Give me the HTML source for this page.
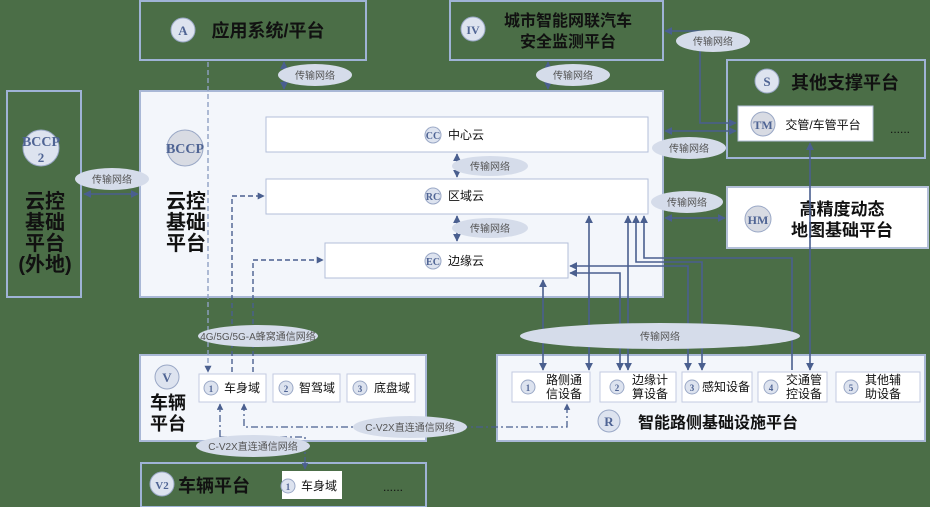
<!DOCTYPE html>
<html><head><meta charset="utf-8"><style>
html,body{margin:0;padding:0;background:#4b6e47;}
svg{display:block;}
text{font-family:"Liberation Sans","Noto Sans CJK SC",sans-serif;}
.c{font-family:"Liberation Serif",serif;fill:#4f6494;font-weight:bold;}
</style></head><body>
<svg width="930" height="507" viewBox="0 0 930 507" xmlns="http://www.w3.org/2000/svg">
<defs>
<marker id="a" viewBox="0 0 10 10" refX="9" refY="5" markerWidth="5" markerHeight="5" orient="auto-start-reverse"><path d="M0 0L10 5L0 10z" fill="#4a5f8f"/></marker>
</defs>
<rect width="930" height="507" fill="#4b6e47"/>
<!-- top boxes -->
<rect x="140" y="1" width="226" height="59" fill="none" stroke="#9fb3d6" stroke-width="2"/>
<circle cx="183" cy="30" r="12" fill="#dde3ef" stroke="#9aa8c6"/><text x="183" y="35" text-anchor="middle" class="c" font-size="13">A</text>
<text x="268" y="37" text-anchor="middle" font-size="18" font-weight="bold" fill="#111">应用系统/平台</text>
<rect x="450" y="1" width="213" height="59" fill="none" stroke="#9fb3d6" stroke-width="2"/>
<circle cx="473" cy="29" r="12" fill="#dde3ef" stroke="#9aa8c6"/><text x="473" y="34" text-anchor="middle" class="c" font-size="12">IV</text>
<text x="568" y="26" text-anchor="middle" font-size="16" font-weight="bold" fill="#111">城市智能网联汽车</text>
<text x="568" y="47" text-anchor="middle" font-size="16" font-weight="bold" fill="#111">安全监测平台</text>
<!-- BCCP2 -->
<rect x="7" y="91" width="74" height="206" fill="none" stroke="#9fb3d6" stroke-width="2"/>
<circle cx="41" cy="148" r="18" fill="#dde3ef" stroke="#9aa8c6"/>
<text x="41" y="146" text-anchor="middle" class="c" font-size="14">BCCP</text><text x="41" y="162" text-anchor="middle" class="c" font-size="13">2</text>
<g font-size="20" font-weight="bold" fill="#111" text-anchor="middle"><text x="45" y="208">云控</text><text x="45" y="229">基础</text><text x="45" y="250">平台</text><text x="45" y="271">(外地)</text></g>
<!-- main BCCP -->
<rect x="140" y="91" width="523" height="206" fill="#f3f6fb" stroke="#a9b8d6" stroke-width="2"/>
<circle cx="185" cy="148" r="18" fill="#d8dbe3" stroke="#9aa8c6"/><text x="185" y="153" text-anchor="middle" class="c" font-size="14">BCCP</text>
<g font-size="20" font-weight="bold" fill="#111" text-anchor="middle"><text x="186" y="208">云控</text><text x="186" y="229">基础</text><text x="186" y="250">平台</text></g>
<rect x="266" y="117" width="382" height="35" fill="#fff" stroke="#b3bfd8"/>
<rect x="266" y="179" width="382" height="35" fill="#fff" stroke="#b3bfd8"/>
<rect x="325" y="243" width="243" height="35" fill="#fff" stroke="#b3bfd8"/>
<g font-size="12" fill="#111">
<circle cx="433" cy="135" r="8" fill="#dde3ef" stroke="#9aa8c6"/><text x="433" y="139" text-anchor="middle" class="c" font-size="10">CC</text><text x="448" y="139">中心云</text>
<circle cx="433" cy="196" r="8" fill="#dde3ef" stroke="#9aa8c6"/><text x="433" y="200" text-anchor="middle" class="c" font-size="10">RC</text><text x="448" y="200">区域云</text>
<circle cx="433" cy="261" r="8" fill="#dde3ef" stroke="#9aa8c6"/><text x="433" y="265" text-anchor="middle" class="c" font-size="10">EC</text><text x="448" y="265">边缘云</text>
</g>
<!-- S box -->
<rect x="727" y="60" width="198" height="98" fill="none" stroke="#9fb3d6" stroke-width="2"/>
<circle cx="767" cy="81" r="12" fill="#dde3ef" stroke="#9aa8c6"/><text x="767" y="86" text-anchor="middle" class="c" font-size="13">S</text>
<text x="845" y="89" text-anchor="middle" font-size="18" font-weight="bold" fill="#111">其他支撑平台</text>
<rect x="738" y="106" width="135" height="35" fill="#fff" stroke="#b3bfd8"/>
<circle cx="763" cy="124" r="12" fill="#d8dbe3" stroke="#9aa8c6"/><text x="763" y="129" text-anchor="middle" class="c" font-size="12">TM</text>
<text x="823" y="129" text-anchor="middle" font-size="12" fill="#111">交管/车管平台</text>
<text x="900" y="133" text-anchor="middle" font-size="12" fill="#111">......</text>
<!-- HM -->
<rect x="727" y="187" width="201" height="61" fill="#fff" stroke="#b3bfd8" stroke-width="2"/>
<circle cx="758" cy="219" r="13" fill="#d8dbe3" stroke="#9aa8c6"/><text x="758" y="224" text-anchor="middle" class="c" font-size="12">HM</text>
<text x="842" y="215" text-anchor="middle" font-size="17" font-weight="bold" fill="#111">高精度动态</text>
<text x="842" y="236" text-anchor="middle" font-size="17" font-weight="bold" fill="#111">地图基础平台</text>
<!-- V -->
<rect x="140" y="355" width="286" height="86" fill="#f3f6fb" stroke="#a9b8d6" stroke-width="2"/>
<circle cx="167" cy="377" r="12" fill="#dde3ef" stroke="#9aa8c6"/><text x="167" y="382" text-anchor="middle" class="c" font-size="13">V</text>
<text x="168" y="409" text-anchor="middle" font-size="18" font-weight="bold" fill="#111">车辆</text>
<text x="168" y="430" text-anchor="middle" font-size="18" font-weight="bold" fill="#111">平台</text>
<g font-size="12" fill="#111">
<rect x="199" y="374" width="67" height="28" fill="#fff" stroke="#c3cbe0"/><circle cx="211" cy="388" r="7" fill="#dde3ef" stroke="#9aa8c6"/><text x="211" y="392" text-anchor="middle" class="c" font-size="9">1</text><text x="224" y="392">车身域</text>
<rect x="273" y="374" width="67" height="28" fill="#fff" stroke="#c3cbe0"/><circle cx="286" cy="388" r="7" fill="#dde3ef" stroke="#9aa8c6"/><text x="286" y="392" text-anchor="middle" class="c" font-size="9">2</text><text x="299" y="392">智驾域</text>
<rect x="347" y="374" width="68" height="28" fill="#fff" stroke="#c3cbe0"/><circle cx="360" cy="388" r="7" fill="#dde3ef" stroke="#9aa8c6"/><text x="360" y="392" text-anchor="middle" class="c" font-size="9">3</text><text x="374" y="392">底盘域</text>
</g>
<!-- V2 -->
<rect x="141" y="463" width="285" height="44" fill="none" stroke="#9fb3d6" stroke-width="2"/>
<circle cx="162" cy="484" r="12" fill="#dde3ef" stroke="#9aa8c6"/><text x="162" y="489" text-anchor="middle" class="c" font-size="11">V2</text>
<text x="214" y="492" text-anchor="middle" font-size="18" font-weight="bold" fill="#111">车辆平台</text>
<rect x="282" y="471" width="60" height="28" fill="#fff"/><circle cx="288" cy="486" r="7" fill="#dde3ef" stroke="#9aa8c6"/><text x="288" y="490" text-anchor="middle" class="c" font-size="9">1</text><text x="301" y="490" font-size="12" fill="#111">车身域</text>
<text x="383" y="491" font-size="12" fill="#111">......</text>
<!-- R -->
<rect x="497" y="355" width="428" height="86" fill="#f3f6fb" stroke="#a9b8d6" stroke-width="2"/>
<g font-size="12" fill="#111">
<rect x="512" y="372" width="78" height="30" fill="#fff" stroke="#c3cbe0"/><circle cx="528" cy="387" r="7" fill="#dde3ef" stroke="#9aa8c6"/><text x="528" y="391" text-anchor="middle" class="c" font-size="9">1</text><text x="546" y="384">路侧通</text><text x="546" y="398">信设备</text>
<rect x="600" y="372" width="76" height="30" fill="#fff" stroke="#c3cbe0"/><circle cx="617" cy="387" r="7" fill="#dde3ef" stroke="#9aa8c6"/><text x="617" y="391" text-anchor="middle" class="c" font-size="9">2</text><text x="632" y="384">边缘计</text><text x="632" y="398">算设备</text>
<rect x="682" y="372" width="70" height="30" fill="#fff" stroke="#c3cbe0"/><circle cx="692" cy="387" r="7" fill="#dde3ef" stroke="#9aa8c6"/><text x="692" y="391" text-anchor="middle" class="c" font-size="9">3</text><text x="702" y="391">感知设备</text>
<rect x="758" y="372" width="69" height="30" fill="#fff" stroke="#c3cbe0"/><circle cx="771" cy="387" r="7" fill="#dde3ef" stroke="#9aa8c6"/><text x="771" y="391" text-anchor="middle" class="c" font-size="9">4</text><text x="786" y="384">交通管</text><text x="786" y="398">控设备</text>
<rect x="836" y="372" width="84" height="30" fill="#fff" stroke="#c3cbe0"/><circle cx="851" cy="387" r="7" fill="#dde3ef" stroke="#9aa8c6"/><text x="851" y="391" text-anchor="middle" class="c" font-size="9">5</text><text x="865" y="384">其他辅</text><text x="865" y="398">助设备</text>
</g>
<circle cx="609" cy="421" r="11" fill="#dde3ef" stroke="#9aa8c6"/><text x="609" y="426" text-anchor="middle" class="c" font-size="13">R</text>
<text x="718" y="428" text-anchor="middle" font-size="16" font-weight="bold" fill="#111">智能路侧基础设施平台</text>
<!-- connectors -->
<g stroke="#4a5f8f" stroke-width="1.6" fill="none">
<line x1="284" y1="62" x2="284" y2="89" marker-start="url(#a)" marker-end="url(#a)"/>
<line x1="548" y1="62" x2="548" y2="89" marker-start="url(#a)" marker-end="url(#a)"/>
<line x1="84" y1="194" x2="138" y2="194" marker-start="url(#a)" marker-end="url(#a)"/>
<line x1="457" y1="154" x2="457" y2="177" marker-start="url(#a)" marker-end="url(#a)"/>
<line x1="457" y1="216" x2="457" y2="241" marker-start="url(#a)" marker-end="url(#a)"/>
<polyline points="665,31 700,31 700,123 736,123" marker-start="url(#a)" marker-end="url(#a)"/>
<line x1="665" y1="131" x2="736" y2="131" marker-start="url(#a)" marker-end="url(#a)"/>
<line x1="665" y1="218" x2="725" y2="218" marker-start="url(#a)" marker-end="url(#a)"/>
<line x1="543" y1="280" x2="543" y2="370" marker-start="url(#a)" marker-end="url(#a)"/>
<line x1="589" y1="216" x2="589" y2="370" marker-start="url(#a)" marker-end="url(#a)"/>
<line x1="628" y1="216" x2="628" y2="370" marker-start="url(#a)" marker-end="url(#a)"/>
<polyline points="636,216 636,262 702,262 702,370" marker-start="url(#a)" marker-end="url(#a)"/>
<polyline points="644,216 644,258 792,258 792,370" marker-start="url(#a)"/>
<polyline points="570,266 688,266 688,370" marker-start="url(#a)" marker-end="url(#a)"/>
<polyline points="570,273 620,273 620,370" marker-start="url(#a)" marker-end="url(#a)"/>
<line x1="810" y1="143" x2="810" y2="370" marker-start="url(#a)" marker-end="url(#a)"/>
</g>
<g stroke="#4a5f8f" stroke-width="1.4" fill="none" stroke-dasharray="5,3">
<line x1="208" y1="62" x2="208" y2="372" stroke="#8fa0c4" marker-end="url(#a)"/>
<polyline points="232,372 232,196 264,196" marker-end="url(#a)"/>
<polyline points="253,372 253,260 323,260" marker-end="url(#a)"/>
</g>
<g stroke="#4a5f8f" stroke-width="1.3" fill="none" stroke-dasharray="7,3,2,3">
<polyline points="220,437 220,404" marker-end="url(#a)"/>
<polyline points="244,404 244,427 567,427 567,404" marker-start="url(#a)" marker-end="url(#a)"/>
<polyline points="220,437 305,437 305,469" marker-end="url(#a)"/>
</g>
<!-- clouds -->
<g fill="#d5dcea" font-size="10" fill-opacity="1">
<ellipse cx="315" cy="75" rx="37" ry="11"/><text x="315" y="79" text-anchor="middle" fill="#555">传输网络</text>
<ellipse cx="573" cy="75" rx="37" ry="11"/><text x="573" y="79" text-anchor="middle" fill="#555">传输网络</text>
<ellipse cx="713" cy="41" rx="37" ry="11"/><text x="713" y="45" text-anchor="middle" fill="#555">传输网络</text>
<ellipse cx="689" cy="148" rx="37" ry="11"/><text x="689" y="152" text-anchor="middle" fill="#555">传输网络</text>
<ellipse cx="687" cy="202" rx="36" ry="11"/><text x="687" y="206" text-anchor="middle" fill="#555">传输网络</text>
<ellipse cx="490" cy="166" rx="38" ry="10"/><text x="490" y="170" text-anchor="middle" fill="#555">传输网络</text>
<ellipse cx="490" cy="228" rx="38" ry="10"/><text x="490" y="232" text-anchor="middle" fill="#555">传输网络</text>
<ellipse cx="112" cy="179" rx="37" ry="11"/><text x="112" y="183" text-anchor="middle" fill="#555">传输网络</text>
<ellipse cx="258" cy="336" rx="60" ry="11"/><text x="258" y="340" text-anchor="middle" fill="#555" font-size="10">4G/5G/5G-A蜂窝通信网络</text>
<ellipse cx="660" cy="336" rx="140" ry="13"/><text x="660" y="340" text-anchor="middle" fill="#555">传输网络</text>
<ellipse cx="410" cy="427" rx="57" ry="11"/><text x="410" y="431" text-anchor="middle" fill="#555">C-V2X直连通信网络</text>
<ellipse cx="253" cy="446" rx="57" ry="11"/><text x="253" y="450" text-anchor="middle" fill="#555">C-V2X直连通信网络</text>
</g>
</svg>
</body></html>
